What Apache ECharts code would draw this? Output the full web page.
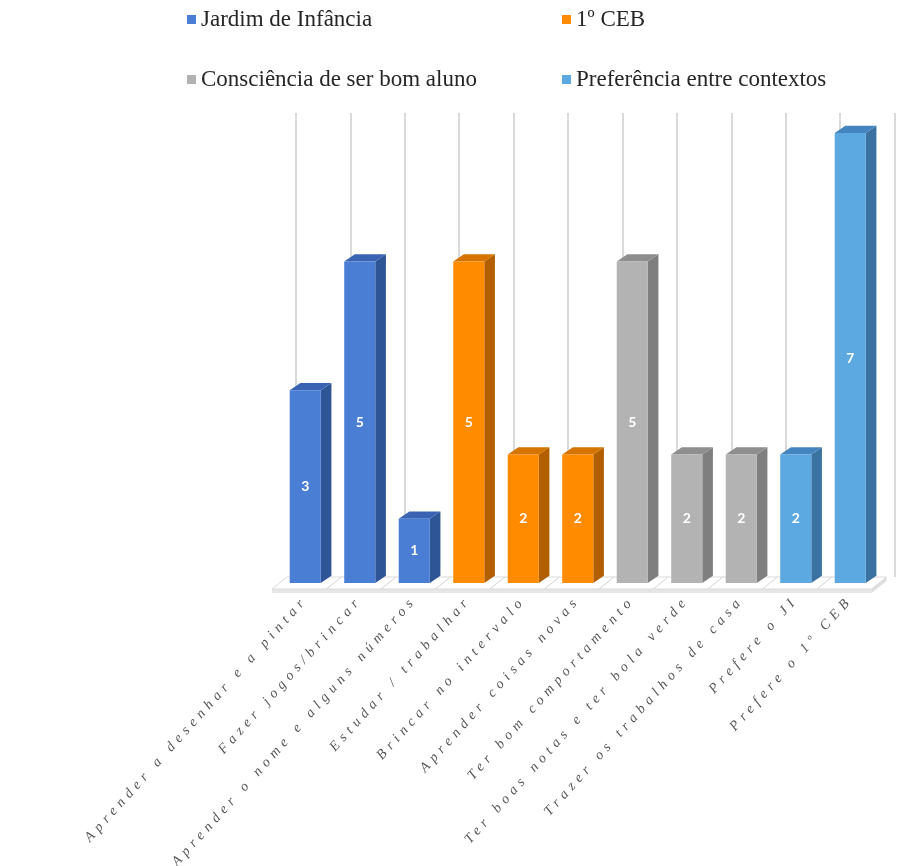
<!DOCTYPE html>
<html>
<head>
<meta charset="utf-8">
<script src="https://cdn.jsdelivr.net/npm/echarts@6/dist/echarts.min.js"></script>
<style>html,body{margin:0;padding:0;background:#fff}#chart{width:899px;height:866px}</style>
</head>
<body>
<div id="chart"></div>
<script>
const categories = ['Aprender a desenhar e a pintar','Fazer jogos/brincar','Aprender o nome e alguns números','Estudar / trabalhar','Brincar no intervalo','Aprender coisas novas','Ter bom comportamento','Ter boas notas e ter bola verde','Trazer os trabalhos de casa','Prefere o JI','Prefere o 1º CEB'];
const seriesNames = ['Jardim de Infância','1º CEB','Consciência de ser bom aluno','Preferência entre contextos'];
const jardimValues       = [3, 5, 1, null, null, null, null, null, null, null, null];
const cebValues          = [null, null, null, 5, 2, 2, null, null, null, null, null];
const conscienciaValues  = [null, null, null, null, null, null, 5, 2, 2, null, null];
const preferenciaValues  = [null, null, null, null, null, null, null, null, null, 2, 7];

const SERIF = "'Liberation Serif', 'Times New Roman', serif";

// wide letter spacing for the category labels only (as in the reference)
(function(){
  const spaced = new Set(categories);
  const proto = CanvasRenderingContext2D.prototype;
  const orig = proto.fillText;
  proto.fillText = function(t){
    if ('letterSpacing' in this) {
      if (spaced.has(t)) {
        this.save();
        this.letterSpacing = '5px';
        const r = orig.apply(this, arguments);
        this.restore();
        return r;
      }
      if (this.letterSpacing !== '0px') this.letterSpacing = '0px';
    }
    return orig.apply(this, arguments);
  };
})();

const palettes = [
  {front:'#4A7ED5', side:'#2E5596', top:'#3A64B3'},
  {front:'#FF8C00', side:'#B15F00', top:'#D57400'},
  {front:'#B3B3B3', side:'#7F7F7F', top:'#8E8E8E'},
  {front:'#5CA8E0', side:'#3A73A1', top:'#4585BF'}
];
const valueArrays = [jardimValues, cebValues, conscienciaValues, preferenciaValues];

function toData(arr){ return arr.map((v,i)=> v==null ? null : [i, v]).filter(Boolean); }

function barRender(c){
  return function(params, api){
    const i = api.value(0), v = api.value(1);
    const base = api.coord([i, 0]), tp = api.coord([i, v]);
    const band = api.size([1, 0])[0];
    const w = band*0.57, dx = band*0.195, dy = -dx*0.68;
    const xl = base[0]-w/2, xr = xl+w, yb = base[1], yt = tp[1];
    return {type:'group', children:[
      {type:'polygon', shape:{points:[[xr,yt],[xr+dx,yt+dy],[xr+dx,yb+dy],[xr,yb]]}, style:{fill:c.side}},
      {type:'polygon', shape:{points:[[xl,yt],[xl+dx,yt+dy],[xr+dx,yt+dy],[xr,yt]]}, style:{fill:c.top}},
      {type:'rect', shape:{x:xl, y:yt, width:w, height:yb-yt}, style:{fill:c.front}},
      {type:'text', x:xl+w/2, y:(yt+yb)/2, style:{text:String(v), fill:'#ffffff', fontSize:14, fontWeight:'bold', fontFamily:'Lato', align:'center', verticalAlign:'middle'}}
    ]};
  };
}

function floorRender(params, api){
  const i = api.value(0);
  const base = api.coord([i, 0]);
  const band = api.size([1, 0])[0];
  const l = base[0]-band/2, r = base[0]+band/2, y = base[1];
  const fx = -6, fy = 6, bx = 9, by = -6;
  const ch = [
    {type:'rect', shape:{x:l+fx, y:y+fy, width:band, height:4}, style:{fill:'#e6e6e6'}},
    {type:'polygon', shape:{points:[[l+fx,y+fy],[r+fx,y+fy],[r+bx,y+by],[l+bx,y+by]]}, style:{fill:'#ffffff', stroke:'#d9d9d9', lineWidth:1}}
  ];
  if (i === categories.length-1) {
    ch.push({type:'polygon', shape:{points:[[r+fx,y+fy],[r+bx,y+by],[r+bx,y+by+4],[r+fx,y+fy+4]]}, style:{fill:'#dedede'}});
  }
  return {type:'group', children:ch};
}

const series = [{
  type:'custom', name:'floor', xAxisIndex:0, yAxisIndex:0, z:1, silent:true,
  renderItem: floorRender, data: categories.map((c,i)=>[i,0]), encode:{x:0, y:1}
}];
seriesNames.forEach((n,k)=>{
  series.push({
    type:'custom', name:n, xAxisIndex:0, yAxisIndex:0, z:3,
    itemStyle:{color:palettes[k].front},
    renderItem: barRender(palettes[k]), data: toData(valueArrays[k]), encode:{x:0, y:1}
  });
});

const legends = seriesNames.map((n,k)=>({
  data:[n], left: (k%2) ? 557 : 182, top: k<2 ? 3 : 63, icon:'rect', itemWidth:9, itemHeight:9, itemGap:0,
  selectedMode:false, textStyle:{fontFamily:SERIF, fontSize:23, color:'#262626'}
}));

const chart = echarts.init(document.getElementById('chart'), null, {renderer:'canvas'});
chart.setOption({
  animation:false,
  backgroundColor:'#ffffff',
  legend: legends,
  grid:[
    {left:278, right:21.5, top:133, bottom:283},
    {left:296, right:4.5, top:113, bottom:289}
  ],
  xAxis:[
    {type:'category', gridIndex:0, data:categories, boundaryGap:true,
     axisLine:{show:false}, axisTick:{show:false}, splitLine:{show:false},
     axisLabel:{interval:0, rotate:48, margin:15, fontFamily:SERIF, fontStyle:'italic', fontSize:14, color:'#555555'}},
    {type:'category', gridIndex:1, data:categories, boundaryGap:true,
     axisLine:{show:false}, axisTick:{show:false}, axisLabel:{show:false},
     splitLine:{show:true, interval:0, showMinLine:true, showMaxLine:true, lineStyle:{color:'#dadada', width:2}}}
  ],
  yAxis:[
    {type:'value', gridIndex:0, min:0, max:7, interval:1, show:false},
    {type:'value', gridIndex:1, min:0, max:1, show:false}
  ],
  series: series
});
</script>
</body>
</html>
